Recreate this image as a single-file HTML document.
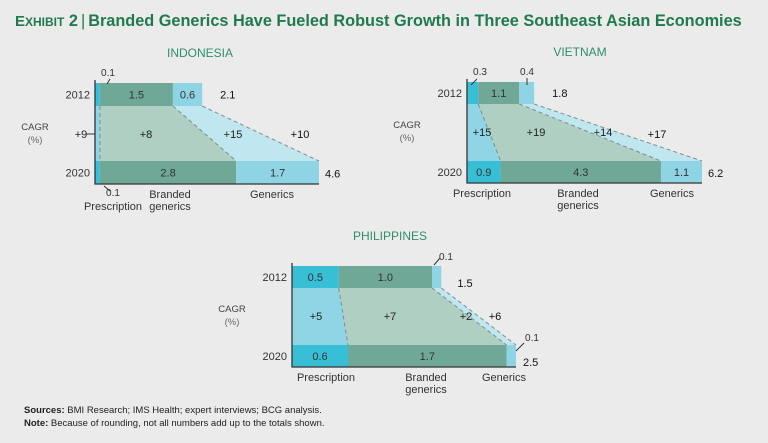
<!DOCTYPE html>
<html><head><meta charset="utf-8">
<style>
body{margin:0;width:768px;height:443px;background:#ebebeb;font-family:"Liberation Sans",sans-serif;overflow:hidden}
svg{position:absolute;left:0;top:0}
</style></head>
<body>
<svg id="chart" width="768" height="443" font-family="Liberation Sans, sans-serif">
<text x="15" y="26" fill="#1f7a4d" font-weight="bold" font-size="16.3"><tspan font-size="15">E</tspan><tspan font-size="12">XHIBIT</tspan> 2<tspan font-weight="normal" dx="3">|</tspan><tspan dx="3">Branded Generics Have Fueled Robust Growth in Three Southeast Asian Economies</tspan></text>
<text x="24" y="413" font-size="9.5" fill="#222"><tspan font-weight="bold">Sources:</tspan> BMI Research; IMS Health; expert interviews; BCG analysis.</text>
<text x="24" y="426" font-size="9.5" fill="#222"><tspan font-weight="bold">Note:</tspan> Because of rounding, not all numbers add up to the totals shown.</text>
<g id="panels"></g>
</svg>
<script>
const countries = ["INDONESIA","VIETNAM","PHILIPPINES"];
const segments = ["Prescription","Branded generics","Generics"];
const idn2012 = [0.1, 1.5, 0.6];
const idn2020 = [0.1, 2.8, 1.7];
const idnCagr = [9, 8, 15];
const idnTotals = [2.1, 4.6];
const idnTotalCagr = 10;
const vnm2012 = [0.3, 1.1, 0.4];
const vnm2020 = [0.9, 4.3, 1.1];
const vnmCagr = [15, 19, 14];
const vnmTotals = [1.8, 6.2];
const vnmTotalCagr = 17;
const phl2012 = [0.5, 1.0, 0.1];
const phl2020 = [0.6, 1.7, 0.1];
const phlCagr = [5, 7, 2];
const phlTotals = [1.5, 2.5];
const phlTotalCagr = 6;

const NS="http://www.w3.org/2000/svg";
const root=document.getElementById('panels');
function mk(tag,attrs,parent,txt){const e=document.createElementNS(NS,tag);for(const k in attrs)e.setAttribute(k,attrs[k]);if(txt!==undefined)e.textContent=txt;(parent||root).appendChild(e);return e;}
const dark=["#38bfd6","#6fa897","#8fd4e4"];
const band=["#8fd5e5","#aecfc1","#c0e7ef"];
const layout=[
 {x0:95,w:224,y12:83,y20:161,h:23,titleX:200,catX:[null,170,272],cagrX:[null,146,233],cagrY:138,tcX:300},
 {x0:467,w:235,y12:82,y20:161,h:22,titleX:580,catX:[482,578,672],cagrX:[482,536,603],cagrY:136,tcX:657},
 {x0:292,w:224,y12:266,y20:345,h:22,titleX:390,catX:[326,426,504],cagrX:[316,390,466],cagrY:320,tcX:495}
];
const data=[[idn2012,idn2020,idnCagr,idnTotals,idnTotalCagr],[vnm2012,vnm2020,vnmCagr,vnmTotals,vnmTotalCagr],[phl2012,phl2020,phlCagr,phlTotals,phlTotalCagr]];
function fmt(v){return v.toFixed(1);}
data.forEach((d,p)=>{
 const L=layout[p];const [a,b,cg,tot,tc]=d;
 const g=mk('g',{});
 
 
 const sum20=b.reduce((s,v)=>s+v,0);
 const sc=v=>v*L.w/sum20;
 const xa=[L.x0],xb=[L.x0];
 a.forEach(v=>xa.push(xa[xa.length-1]+sc(v)));
 b.forEach(v=>xb.push(xb[xb.length-1]+sc(v)));
 const yb12=L.y12+L.h, yt20=L.y20;
 const t=mk('text',{x:L.titleX,y:L.y12-26,'text-anchor':'middle','font-size':12,fill:'#2f8f6a'},g,countries[p]);
 
 for(let i=0;i<3;i++){
  const poly=mk('polygon',{points:`${xa[i]},${yb12} ${xa[i+1]},${yb12} ${xb[i+1]},${yt20} ${xb[i]},${yt20}`,fill:band[i]},g);
  
 }
 for(let i=1;i<=3;i++){
  const ln=mk('line',{x1:xa[i],y1:yb12,x2:xb[i],y2:yt20,stroke:'#7f8c8c','stroke-width':1,'stroke-dasharray':'4,3'},g);
  
 }
 [[a,xa,L.y12,'2012'],[b,xb,L.y20,'2020']].forEach(([vals,xs,y,yr])=>{
  vals.forEach((v,i)=>{
   const r=mk('rect',{x:xs[i],y:y,width:xs[i+1]-xs[i],height:L.h,fill:dark[i]},g);
   
   if(xs[i+1]-xs[i]>18){const tx=mk('text',{x:(xs[i]+xs[i+1])/2,y:y+L.h/2+4,'text-anchor':'middle','font-size':11,fill:'#333'},g,fmt(v));
    }
  });
  const yl=mk('text',{x:L.x0-5,y:y+L.h/2+4,'text-anchor':'end','font-size':11,fill:'#333'},g,yr);
  
 });
 const tt1=mk('text',{x:xa[3]+(p==2?16:18),y:L.y12+L.h/2+(p==2?10:4),'font-size':11,fill:'#111'},g,fmt(tot[0]));
 
 const tt2=mk('text',{x:xb[3]+(p==2?7:6),y:L.y20+L.h/2+(p==2?10:5),'font-size':11,fill:'#111'},g,fmt(tot[1]));
 
 const ax=mk('polyline',{points:`${L.x0},${L.y12-3} ${L.x0},${L.y20+L.h} ${xb[3]},${L.y20+L.h}`,fill:'none',stroke:'#333','stroke-width':1.3},g);
 
 const cy=L.cagrY;
 const c1=mk('text',{x:L.x0-60,y:cy-8,'text-anchor':'middle','font-size':9.5,fill:'#444'},g,'CAGR');
 
 mk('text',{x:L.x0-60,y:cy+5,'text-anchor':'middle','font-size':9.5,fill:'#666'},g,'(%)');
 cg.forEach((v,i)=>{
  let x=L.cagrX[i];
  if(x===null){x=L.x0-14;mk('line',{x1:L.x0-9,y1:cy-4,x2:L.x0,y2:cy-4,stroke:'#333'},g);}
  const ct=mk('text',{x:x,y:cy,'text-anchor':'middle','font-size':11,fill:'#222'},g,'+'+v);
  
 });
 const tc1=mk('text',{x:L.tcX,y:cy+(p==1?2:0),'text-anchor':'middle','font-size':11,fill:'#111'},g,'+'+tc);
 
 const cy2=L.y20+L.h+14;
 segments.forEach((s,i)=>{
  let x=L.catX[i];
  if(x===null){x=L.x0+18;}
  const yy=(p==0&&i==0)?cy2+12:cy2;
  if(s==="Branded generics"){
   const e=mk('text',{x:x,y:yy,'text-anchor':'middle','font-size':11,fill:'#333'},g,'Branded');
   
   mk('text',{x:x,y:yy+12,'text-anchor':'middle','font-size':11,fill:'#333'},g,'generics');
  } else {
   const e=mk('text',{x:x,y:yy,'text-anchor':'middle','font-size':11,fill:'#333'},g,s);
   
  }
 });
 const ann=(txt,tx,ty,lx1,ly1,lx2,ly2)=>{mk('line',{x1:lx1,y1:ly1,x2:lx2,y2:ly2,stroke:'#333'},g);
  const e=mk('text',{x:tx,y:ty,'text-anchor':'middle','font-size':10,fill:'#333'},g,txt);
  };
 if(p==0){ann(fmt(a[0]),108,76,110,79,107,84);ann(fmt(b[0]),113,196,104,186,110,191);}
 if(p==1){ann(fmt(a[0]),480,75,477,79,471,85);ann(fmt(a[2]),527,75,527,78,527,85);}
 if(p==2){ann(fmt(a[2]),446,260,434,265,440,258);ann(fmt(b[2]),532,341,516,351,524,343);}
});
</script>
</body></html>
